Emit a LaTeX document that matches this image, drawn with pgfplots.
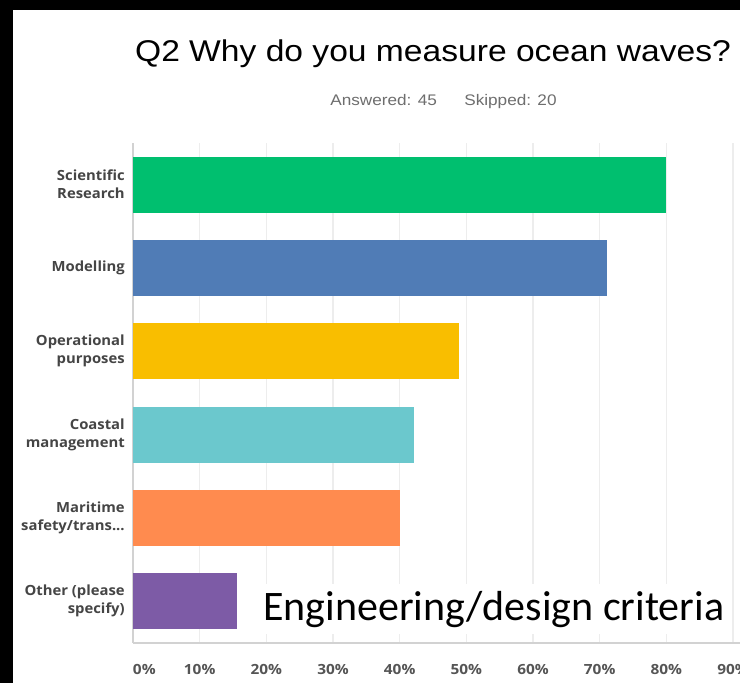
\documentclass[border=0pt]{standalone}
\usepackage{fontspec}
\setmainfont{Liberation Sans}
\newfontfamily\smfont{Open Sans}
\newfontfamily\calfont{Carlito}
\usepackage{pgfplots}
\pgfplotsset{compat=1.18}

\definecolor{smgreen}{HTML}{00BF6F}
\definecolor{smblue}{HTML}{507CB6}
\definecolor{smyellow}{HTML}{F9BE00}
\definecolor{smteal}{HTML}{6BC8CD}
\definecolor{smorange}{HTML}{FF8B4F}
\definecolor{smpurple}{HTML}{7D5BA6}
\definecolor{labelgray}{HTML}{454545}
\definecolor{tickgray}{HTML}{555555}
\definecolor{subgray}{HTML}{6E6E6E}
\definecolor{gridgray}{HTML}{EDEDED}
\definecolor{axgray}{HTML}{D2D2D2}

% truncation dots, kept in a macro so pgffor does not read them as a range
\newcommand{\tdots}{...}

\begin{document}
\begin{tikzpicture}
\useasboundingbox (0,0) rectangle (555pt,512.25pt);
\clip (0,0) rectangle (555pt,512.25pt);
\begin{scope}[x=0.75pt,y=0.75pt]
% frame
\fill[black] (0,0) rectangle (740,683);
\fill[white] (13,0) rectangle (740,673);

% title and response counts
\node[anchor=base, inner sep=0pt, xscale=1.12,
      font=\fontsize{22.5}{27}\selectfont] at (433,621)
      {Q2 Why do you measure ocean waves?};
\node[anchor=base west, inner sep=0pt, xscale=1.12, text=subgray,
      font=\fontsize{11.5}{14}\selectfont] at (330,577) {Answered: 45};
\node[anchor=base west, inner sep=0pt, xscale=1.12, text=subgray,
      font=\fontsize{11.5}{14}\selectfont] at (464,577) {Skipped: 20};
\end{scope}

\begin{axis}[
    at={(99.75pt,30pt)}, anchor=south west,
    scale only axis,
    width=500pt, height=375pt,
    xmin=0, xmax=100,
    ymin=-0.5, ymax=5.5,
    y dir=reverse,
    axis x line*=bottom, axis y line*=left,
    axis line style={draw=axgray, line width=1pt, -},
    major tick length=0pt,
    xmajorgrids,
    major grid style={draw=gridgray, line width=0.8pt},
    xtick={0,10,20,30,40,50,60,70,80,90,100},
    xticklabels={\rlap{0\%},10\%,20\%,30\%,40\%,50\%,60\%,70\%,80\%,90\%,100\%},
    xticklabel style={anchor=base, yshift=-23.5pt, xscale=1.1, text=tickgray,
        font=\smfont\bfseries\fontsize{10.5}{12}\selectfont},
    ytick={0,1,2,3,4,5},
    yticklabels={{Scientific\\Research},{Modelling},{Operational\\purposes},
                 {Coastal\\management},{Maritime\\safety/trans\tdots},
                 {Other (please\\specify)}},
    yticklabel style={align=right, inner sep=0pt, xshift=-6pt, xscale=1.06,
        text=labelgray,
        font=\smfont\bfseries\fontsize{10.5}{13.5}\selectfont},
]
\addplot[xbar, bar width=42pt, bar shift=0pt, fill=smgreen,  draw=none] coordinates {(80.00,0)};
\addplot[xbar, bar width=42pt, bar shift=0pt, fill=smblue,   draw=none] coordinates {(71.11,1)};
\addplot[xbar, bar width=42pt, bar shift=0pt, fill=smyellow, draw=none] coordinates {(48.89,2)};
\addplot[xbar, bar width=42pt, bar shift=0pt, fill=smteal,   draw=none] coordinates {(42.22,3)};
\addplot[xbar, bar width=42pt, bar shift=0pt, fill=smorange, draw=none] coordinates {(40.00,4)};
\addplot[xbar, bar width=42pt, bar shift=0pt, fill=smpurple, draw=none] coordinates {(15.56,5)};
\end{axis}

% annotation for the "Other" answers
\node[anchor=base west, fill=white, inner xsep=3pt, inner ysep=5pt,
      font=\calfont\fontsize{31.5}{36}\selectfont] at (194.25pt,47.25pt)
      {Engineering/design criteria};
\end{tikzpicture}
\end{document}
